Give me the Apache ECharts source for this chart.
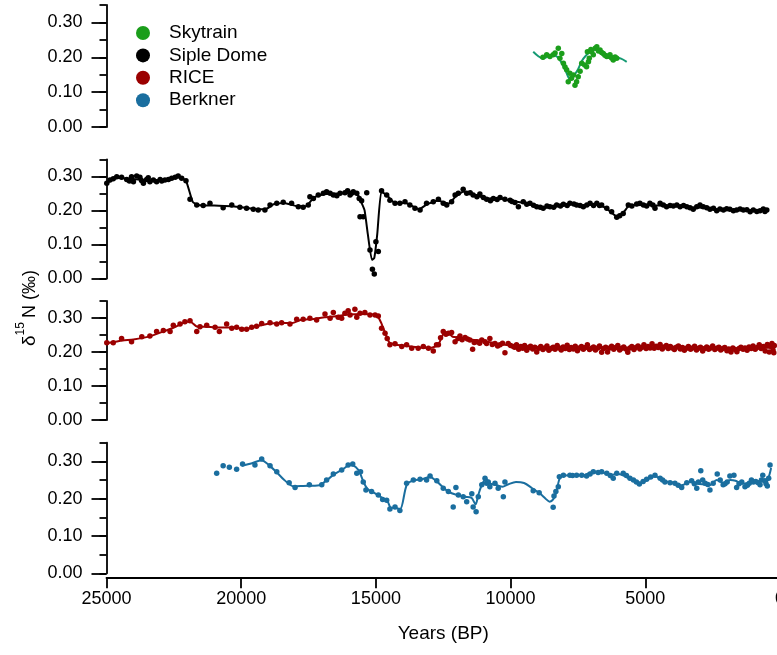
<!DOCTYPE html>
<html><head><meta charset="utf-8">
<script src="https://cdn.jsdelivr.net/npm/echarts@6/dist/echarts.min.js"></script>
<style>html,body{margin:0;padding:0;background:#fff}#c{width:777px;height:655px}</style>
</head><body><div id="c"></div>
<script>
const xTickValues = [25000, 20000, 15000, 10000, 5000, 0];
const yLabelValues = [0, 0.1, 0.2, 0.3];
const seriesNames = ['Skytrain', 'Siple Dome', 'RICE', 'Berkner'];
const seriesColors = ['#1b9e1b', '#000000', '#9b0000', '#1a6e9f'];
const lineColors = ['#159a73', '#000000', '#9b0000', '#1a6e9f'];
const xTitle = 'Years (BP)';

const skytrainPoints = [[8800,0.200],[8660,0.207],[8540,0.202],[8420,0.207],[8350,0.212],[8230,0.226],[8170,0.197],[8100,0.211],[8040,0.183],[7980,0.172],[7920,0.164],[7860,0.130],[7800,0.154],[7740,0.140],[7670,0.149],[7610,0.120],[7550,0.130],[7490,0.144],[7420,0.160],[7360,0.183],[7250,0.178],[7180,0.173],[7150,0.216],[7110,0.187],[7080,0.197],[7020,0.222],[6990,0.216],[6930,0.207],[6860,0.226],[6800,0.230],[6740,0.218],[6680,0.221],[6620,0.214],[6560,0.211],[6500,0.206],[6430,0.202],[6370,0.203],[6310,0.207],[6250,0.198],[6190,0.192],[6120,0.201],[6060,0.197]];
const skytrainFit = [[9160,0.216],[8970,0.203],[8800,0.196],[8600,0.203],[8400,0.206],[8250,0.2],[8100,0.183],[7950,0.16],[7800,0.138],[7680,0.145],[7500,0.165],[7350,0.19],[7200,0.205],[7050,0.215],[6900,0.222],[6700,0.217],[6500,0.21],[6300,0.205],[6100,0.2],[5900,0.196],[5690,0.187]];

const siplePoints = [[24990,0.280],[24870,0.289],[24750,0.293],[24620,0.299],[24440,0.297],[24250,0.291],[24150,0.286],[24070,0.299],[24000,0.284],[23880,0.301],[23760,0.297],[23700,0.288],[23630,0.280],[23510,0.291],[23450,0.296],[23390,0.284],[23260,0.289],[23140,0.284],[23010,0.291],[22950,0.286],[22830,0.289],[22700,0.291],[22580,0.294],[22450,0.297],[22340,0.301],[22210,0.294],[22050,0.287],[21900,0.233],[21650,0.216],[21410,0.214],[21160,0.221],[20670,0.208],[20350,0.216],[20050,0.209],[19800,0.206],[19550,0.203],[19370,0.201],[19120,0.201],[18930,0.216],[18680,0.221],[18440,0.224],[18130,0.221],[17880,0.211],[17700,0.209],[17510,0.216],[17450,0.240],[17320,0.235],[17140,0.245],[16950,0.250],[16830,0.255],[16700,0.250],[16580,0.245],[16450,0.243],[16330,0.250],[16150,0.252],[16050,0.258],[15960,0.245],[15900,0.250],[15840,0.255],[15710,0.250],[15620,0.235],[15590,0.181],[15530,0.228],[15470,0.181],[15340,0.252],[15220,0.084],[15130,0.027],[15060,0.013],[15000,0.108],[14910,0.079],[14790,0.258],[14600,0.245],[14480,0.230],[14290,0.221],[14110,0.221],[13920,0.225],[13740,0.216],[13550,0.206],[13360,0.201],[13120,0.221],[12870,0.225],[12680,0.233],[12500,0.221],[12370,0.216],[12190,0.225],[12060,0.245],[11940,0.250],[11760,0.262],[11630,0.250],[11500,0.252],[11390,0.245],[11250,0.240],[11140,0.248],[11010,0.238],[10890,0.233],[10750,0.228],[10640,0.235],[10500,0.232],[10390,0.238],[10210,0.233],[10020,0.230],[9950,0.226],[9840,0.223],[9710,0.211],[9530,0.225],[9400,0.218],[9280,0.221],[9150,0.215],[9030,0.211],[8900,0.209],[8790,0.206],[8650,0.213],[8540,0.211],[8400,0.209],[8290,0.216],[8150,0.213],[8040,0.218],[7900,0.214],[7800,0.221],[7650,0.219],[7550,0.216],[7420,0.214],[7300,0.211],[7170,0.216],[7050,0.221],[6920,0.214],[6800,0.221],[6700,0.214],[6620,0.216],[6430,0.206],[6250,0.196],[6060,0.180],[5950,0.184],[5820,0.191],[5630,0.216],[5500,0.213],[5320,0.219],[5200,0.221],[5070,0.216],[4950,0.213],[4830,0.221],[4720,0.216],[4640,0.206],[4450,0.221],[4330,0.216],[4210,0.211],[4080,0.214],[3960,0.213],[3830,0.216],[3710,0.211],[3580,0.214],[3460,0.211],[3340,0.208],[3220,0.203],[3090,0.211],[2970,0.216],[2850,0.211],[2720,0.208],[2600,0.203],[2470,0.206],[2350,0.199],[2230,0.204],[2100,0.201],[1980,0.205],[1860,0.203],[1730,0.199],[1610,0.201],[1480,0.204],[1360,0.201],[1230,0.202],[1110,0.196],[990,0.201],[860,0.197],[740,0.199],[620,0.204],[560,0.197],[490,0.201]];
const sipleFit = [[25000,0.28],[24600,0.295],[24000,0.292],[23400,0.287],[22800,0.291],[22300,0.298],[22050,0.287],[21800,0.225],[21600,0.216],[21000,0.214],[20300,0.212],[19600,0.205],[19100,0.203],[18800,0.218],[18400,0.222],[17900,0.212],[17600,0.212],[17300,0.238],[16900,0.248],[16300,0.25],[15850,0.252],[15650,0.243],[15550,0.225],[15420,0.2],[15300,0.13],[15150,0.055],[15060,0.06],[14950,0.13],[14800,0.255],[14600,0.245],[14300,0.222],[13900,0.222],[13400,0.203],[13100,0.218],[12700,0.228],[12300,0.22],[12050,0.24],[11750,0.255],[11300,0.245],[10900,0.235],[10400,0.236],[10000,0.228],[9500,0.222],[9000,0.212],[8700,0.208],[8300,0.214],[7800,0.219],[7300,0.214],[6800,0.219],[6450,0.206],[6060,0.182],[5800,0.195],[5600,0.214],[5100,0.216],[4500,0.214],[3900,0.212],[3300,0.209],[2800,0.208],[2300,0.202],[1600,0.202],[1100,0.199],[500,0.2]];

const ricePoints = [[24990,0.227],[24750,0.227],[24440,0.240],[24070,0.230],[23690,0.245],[23390,0.247],[23140,0.260],[22890,0.263],[22640,0.260],[22520,0.279],[22270,0.282],[22090,0.289],[21900,0.292],[21650,0.260],[21530,0.274],[21280,0.279],[20970,0.273],[20810,0.260],[20540,0.282],[20350,0.270],[20170,0.273],[19980,0.267],[19800,0.267],[19610,0.273],[19430,0.276],[19240,0.284],[18930,0.286],[18680,0.282],[18500,0.286],[18190,0.282],[17940,0.296],[17700,0.296],[17450,0.299],[17200,0.294],[16890,0.312],[16700,0.299],[16580,0.316],[16400,0.302],[16270,0.299],[16150,0.314],[16030,0.321],[15960,0.309],[15780,0.326],[15710,0.302],[15590,0.314],[15410,0.316],[15220,0.309],[15030,0.309],[14910,0.306],[14790,0.270],[14660,0.255],[14580,0.240],[14480,0.221],[14290,0.224],[14040,0.216],[13860,0.221],[13670,0.211],[13430,0.211],[13240,0.216],[13050,0.211],[12870,0.203],[12750,0.221],[12680,0.221],[12600,0.242],[12500,0.260],[12400,0.252],[12310,0.255],[12190,0.257],[12060,0.230],[11950,0.240],[11880,0.247],[11800,0.236],[11690,0.243],[11600,0.238],[11510,0.235],[11410,0.208],[11350,0.228],[11260,0.230],[11150,0.226],[11070,0.235],[10950,0.230],[10890,0.225],[10770,0.240],[10680,0.222],[10580,0.225],[10480,0.218],[10390,0.221],[10300,0.226],[10210,0.198],[10090,0.225],[10000,0.219],[9900,0.216],
[9850,0.214],[9780,0.221],[9700,0.208],[9620,0.216],[9550,0.211],[9480,0.219],[9400,0.205],[9330,0.213],[9260,0.217],[9180,0.209],[9100,0.214],[9030,0.200],[8950,0.211],[8880,0.216],[8800,0.207],[8730,0.212],[8650,0.218],[8580,0.205],[8500,0.210],[8420,0.214],[8350,0.208],[8270,0.219],[8200,0.212],[8120,0.206],[8050,0.215],[7970,0.210],[7900,0.220],[7820,0.207],[7750,0.213],[7670,0.209],[7600,0.217],[7520,0.204],[7450,0.212],[7370,0.216],[7300,0.208],[7220,0.213],[7150,0.221],[7070,0.207],[7000,0.211],[6920,0.215],[6850,0.206],[6770,0.212],[6700,0.218],[6620,0.199],[6550,0.210],[6470,0.214],[6400,0.200],[6320,0.212],[6250,0.217],[6170,0.208],[6100,0.213],[6020,0.219],[5950,0.206],[5870,0.211],[5800,0.215],[5720,0.209],[5650,0.199],[5570,0.212],[5500,0.216],[5420,0.207],[5350,0.213],[5270,0.218],[5200,0.209],[5120,0.214],[5050,0.221],[4970,0.210],[4900,0.216],[4820,0.212],[4750,0.224],[4670,0.211],[4600,0.217],[4520,0.213],[4450,0.222],[4370,0.209],[4300,0.215],[4220,0.219],[4150,0.210],[4070,0.216],[4000,0.212],[3920,0.207],[3850,0.214],[3770,0.218],[3700,0.209],[3620,0.213],[3550,0.205],[3470,0.211],[3400,0.216],[3320,0.208],[3250,0.212],[3170,0.217],[3100,0.206],[3020,0.211],[2950,0.214],[2870,0.203],[2800,0.210],[2720,0.215],[2650,0.208],[2570,0.212],[2500,0.218],[2420,0.207],[2350,0.211],[2270,0.214],[2200,0.206],[2120,0.210],[2050,0.213],[1970,0.204],[1900,0.209],[1820,0.200],[1750,0.212],[1670,0.207],[1600,0.201],[1520,0.210],[1450,0.214],[1370,0.208],[1300,0.212],[1220,0.205],[1150,0.215],[1070,0.210],[1000,0.218],[920,0.208],[850,0.213],[770,0.221],[700,0.210],[620,0.216],[550,0.203],[470,0.222],[400,0.200],[350,0.217],[300,0.225],[260,0.206],[230,0.198],[210,0.219]];
const riceFit = [[25000,0.226],[24400,0.234],[24000,0.237],[23400,0.246],[22900,0.26],[22500,0.272],[22100,0.287],[21900,0.29],[21650,0.275],[21300,0.274],[20800,0.272],[20300,0.272],[19800,0.268],[19400,0.276],[19000,0.283],[18500,0.285],[18100,0.285],[17800,0.294],[17300,0.297],[16900,0.302],[16500,0.305],[16000,0.31],[15600,0.312],[15200,0.311],[14950,0.307],[14800,0.285],[14650,0.255],[14500,0.228],[14300,0.222],[13900,0.218],[13400,0.213],[13000,0.212],[12700,0.22],[12550,0.245],[12450,0.258],[12300,0.256],[12150,0.245],[11900,0.243],[11500,0.237],[11000,0.232],[10500,0.225],[10000,0.219],[9500,0.215],[9000,0.212],[8000,0.211],[7000,0.211],[6000,0.21],[5000,0.212],[4000,0.213],[3000,0.211],[2000,0.21],[1000,0.211],[250,0.213]];

const berknerPoints = [[20910,0.268],[20670,0.288],[20440,0.284],[20170,0.279],[19950,0.293],[19490,0.290],[19240,0.306],[18930,0.288],[18680,0.272],[18220,0.243],[18000,0.230],[17470,0.237],[17010,0.237],[16830,0.250],[16580,0.266],[16270,0.277],[16030,0.290],[15860,0.293],[15710,0.268],[15570,0.272],[15470,0.245],[15370,0.223],[15160,0.219],[14910,0.210],[14750,0.198],[14600,0.196],[14480,0.172],[14290,0.178],[14110,0.168],[13860,0.241],[13610,0.250],[13360,0.252],[13120,0.250],[12990,0.261],[12740,0.248],[12500,0.228],[12310,0.219],[12130,0.178],[12030,0.230],[11940,0.210],[11760,0.205],[11630,0.192],[11440,0.213],[11390,0.178],[11280,0.165],[11200,0.205],[11070,0.237],[10950,0.255],[10890,0.241],[10830,0.245],[10770,0.232],[10580,0.241],[10460,0.228],[10270,0.205],[10210,0.245],[9160,0.221],[8940,0.216],[8420,0.177],[8390,0.207],[8320,0.219],[8230,0.232],[8190,0.259],[8040,0.263],[7800,0.263],[7700,0.262],[7550,0.263],[7360,0.263],[7180,0.261],[7050,0.266],[6930,0.272],[6750,0.270],[6620,0.272],[6430,0.268],[6300,0.262],[6190,0.255],[6060,0.268],[5820,0.268],[5700,0.262],[5570,0.255],[5440,0.250],[5330,0.245],[5220,0.239],[5080,0.246],[4950,0.252],[4800,0.258],[4640,0.263],[4450,0.255],[4360,0.250],[4270,0.245],[4080,0.243],[3900,0.241],[3780,0.236],[3650,0.230],[3460,0.243],[3280,0.248],[3180,0.240],[3090,0.228],[3030,0.245],[2940,0.275],[2870,0.250],[2780,0.241],[2680,0.238],[2600,0.223],[2480,0.241],[2330,0.266],[2220,0.250],[2110,0.237],[2040,0.240],[1960,0.245],[1860,0.261],[1710,0.263],[1610,0.230],[1520,0.240],[1420,0.245],[1300,0.232],[1210,0.236],[1140,0.241],[1060,0.250],[990,0.245],[900,0.246],[810,0.243],[740,0.237],[690,0.250],[640,0.263],[560,0.248],[520,0.240],[470,0.234],[420,0.255],[370,0.290]];
const berknerFit = [[19980,0.288],[19600,0.295],[19250,0.303],[19000,0.292],[18700,0.272],[18400,0.25],[18050,0.233],[17700,0.234],[17100,0.236],[16850,0.248],[16550,0.265],[16250,0.278],[15950,0.29],[15750,0.285],[15600,0.27],[15450,0.243],[15300,0.225],[15000,0.213],[14700,0.199],[14550,0.19],[14450,0.176],[14250,0.175],[14100,0.172],[13850,0.238],[13600,0.249],[13300,0.252],[13000,0.258],[12750,0.247],[12500,0.23],[12300,0.218],[12000,0.21],[11700,0.205],[11450,0.202],[11300,0.185],[11200,0.21],[11050,0.24],[10900,0.252],[10750,0.24],[10500,0.236],[10300,0.232],[10100,0.238],[9800,0.245],[9500,0.242],[9200,0.228],[8900,0.213],[8700,0.2],[8550,0.192],[8420,0.198],[8300,0.218],[8200,0.25],[8100,0.262],[7700,0.263],[7300,0.263],[7000,0.27],[6600,0.27],[6300,0.264],[6000,0.266],[5700,0.258],[5400,0.247],[5200,0.243],[4950,0.25],[4650,0.26],[4300,0.247],[3950,0.243],[3650,0.236],[3300,0.246],[3050,0.24],[2800,0.238],[2600,0.236],[2350,0.25],[2100,0.242],[1850,0.25],[1650,0.248],[1400,0.24],[1150,0.243],[900,0.244],[700,0.247],[500,0.245],[400,0.262],[330,0.282]];

const pointSets = [skytrainPoints, siplePoints, ricePoints, berknerPoints];
const fitSets = [skytrainFit, sipleFit, riceFit, berknerFit];
const fitSmooth = [0.3, 0.15, 0.2, 0.3];

const FONT = '"Liberation Sans", Arial, sans-serif';
const panels = [
  {top: 5, height: 122},
  {top: 159.3, height: 119.2},
  {top: 301, height: 119},
  {top: 442.7, height: 130.6}
];
const axisLineStyle = {color: '#000', width: 1.8};

const grid = panels.map(p => ({left: 106.5, width: 673.5, top: p.top, height: p.height, outerBoundsMode: 'none', containLabel: false}));
const xAxis = panels.map((p, i) => ({
  gridIndex: i, type: 'value', min: 0, max: 25000, interval: 5000, inverse: true,
  show: i === 3, offset: 4,
  axisLine: {show: true, onZero: false, lineStyle: axisLineStyle},
  axisTick: {show: true, length: 11, lineStyle: axisLineStyle, customValues: xTickValues},
  axisLabel: {show: true, margin: 13, fontSize: 18, color: '#000', fontFamily: FONT,
    customValues: xTickValues, formatter: v => String(v)},
  splitLine: {show: false},
  name: i === 3 ? xTitle : '', nameLocation: 'middle', nameGap: 47,
  nameTextStyle: {fontSize: 19, color: '#000', fontFamily: FONT}
}));
const yAxis = [];
panels.forEach((p, i) => {
  yAxis.push({
    gridIndex: i, type: 'value', min: 0, max: 0.35, position: 'left',
    axisLine: {show: true, onZero: false, lineStyle: axisLineStyle},
    axisTick: {show: true, length: 15, lineStyle: axisLineStyle, customValues: yLabelValues},
    axisLabel: {show: true, margin: 24, fontSize: 18, color: '#000', fontFamily: FONT,
      customValues: yLabelValues, formatter: v => v.toFixed(2)},
    splitLine: {show: false}
  });
  yAxis.push({
    gridIndex: i, type: 'value', min: 0, max: 0.35, interval: 0.05, position: 'left',
    axisLine: {show: false, onZero: false},
    axisTick: {show: true, length: 7, lineStyle: axisLineStyle},
    axisLabel: {show: false},
    splitLine: {show: false}
  });
});

const series = [];
seriesNames.forEach((name, i) => {
  series.push({
    name: name + ' fit', type: 'line', xAxisIndex: i, yAxisIndex: 2 * i,
    data: fitSets[i], showSymbol: false, smooth: fitSmooth[i], z: 2,
    lineStyle: {color: lineColors[i], width: 2}, silent: true
  });
  series.push({
    name: name, type: 'scatter', xAxisIndex: i, yAxisIndex: 2 * i,
    data: pointSets[i], symbolSize: 5.5, z: 3,
    itemStyle: {color: seriesColors[i], opacity: 1}
  });
});

const graphic = [];
seriesNames.forEach((name, i) => {
  const cy = 33 + i * 22.4;
  graphic.push({type: 'circle', shape: {cx: 143, cy: cy, r: 7}, style: {fill: seriesColors[i]}});
  graphic.push({type: 'text', x: 169, y: cy, style: {text: name, fill: '#000', fontSize: 19, fontFamily: FONT, verticalAlign: 'middle', align: 'left'}});
});
graphic.push({
  type: 'text', x: 27, y: 308, rotation: Math.PI / 2,
  style: {
    text: '{d|δ}{s|15}{n|N (‰)}', align: 'center', verticalAlign: 'middle', fill: '#000',
    fontFamily: FONT, fontSize: 18,
    rich: {
      d: {fontSize: 19, fontFamily: FONT, lineHeight: 24, verticalAlign: 'bottom'},
      s: {fontSize: 12, fontFamily: FONT, lineHeight: 24, verticalAlign: 'top'},
      n: {fontSize: 18, fontFamily: FONT, lineHeight: 24, verticalAlign: 'bottom', padding: [0, 0, 0, 4]}
    }
  }
});

const chart = echarts.init(document.getElementById('c'), null, {renderer: 'canvas'});
chart.setOption({
  animation: false,
  backgroundColor: '#fff',
  grid, xAxis, yAxis, series, graphic
});
</script></body></html>
